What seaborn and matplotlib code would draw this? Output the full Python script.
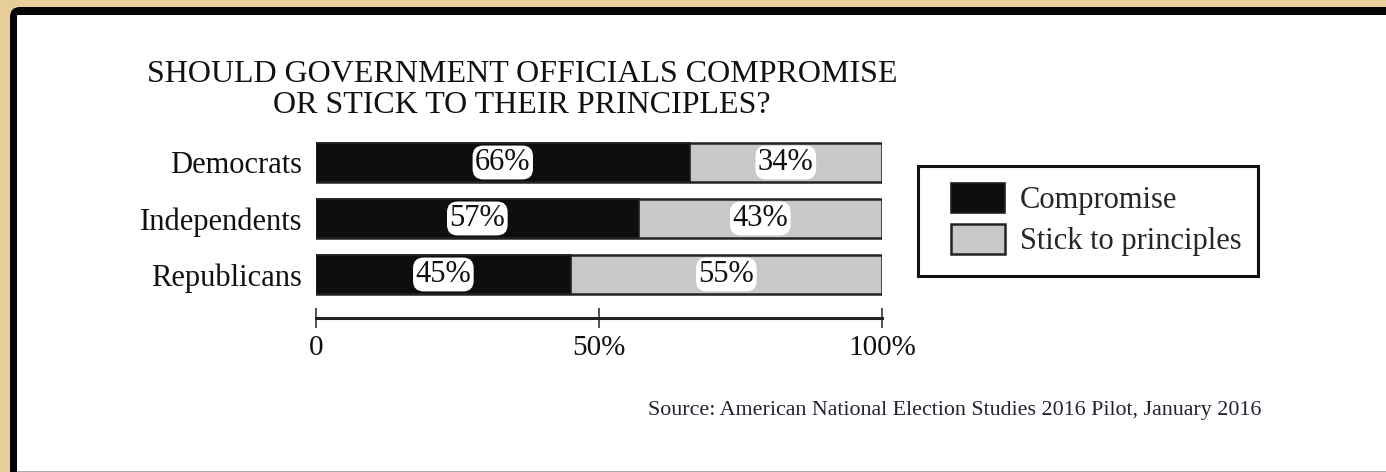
import matplotlib
matplotlib.use("Agg")
import matplotlib.pyplot as plt
import matplotlib.patches as mpatches
import matplotlib.transforms as mtransforms
import seaborn as sns
import pandas as pd

# ---- data ----
groups = ["Democrats", "Independents", "Republicans"]
compromise = [66, 57, 45]
stick = [34, 43, 55]
xticks = [0, 50, 100]
xticklabels = ["0", "50%", "100%"]
title = "SHOULD GOVERNMENT OFFICIALS COMPROMISE\nOR STICK TO THEIR PRINCIPLES?"
source = "Source: American National Election Studies 2016 Pilot, January 2016"

sns.set_theme(style="white")
plt.rcParams["font.family"] = ["Liberation Serif", "DejaVu Serif"]

W, H = 1386, 472
fig = plt.figure(figsize=(W / 100, H / 100), dpi=100)
fig.patch.set_facecolor("#e7cd97")

ident = mtransforms.IdentityTransform()
# black frame with rounded corner
frame = mpatches.FancyBboxPatch((10, -20), 1420, H - 7 + 20,
                                boxstyle="round,pad=0,rounding_size=10",
                                facecolor="#050505", edgecolor="none",
                                transform=ident, zorder=-10)
fig.add_artist(frame)
panel = mpatches.Rectangle((17, 1), 1420, H - 15 - 1, facecolor="white",
                           edgecolor="none", transform=ident, zorder=-9)
fig.add_artist(panel)
bline = mpatches.Rectangle((17, 0), 1420, 1.5, facecolor="#aaaaaa",
                           edgecolor="none", transform=ident, zorder=-9)
fig.add_artist(bline)

# axes
ax_left, ax_right = 316 / W, 882 / W
ax_top, ax_bottom = 1 - 134.5 / H, 1 - 318 / H
ax = fig.add_axes([ax_left, ax_bottom, ax_right - ax_left, ax_top - ax_bottom])
ax.set_facecolor("none")

df = pd.DataFrame({"group": groups, "compromise": compromise, "stick": stick})
df["total"] = df["compromise"] + df["stick"]

sns.barplot(data=df, y="group", x="total", orient="h", color="#c8c8c8",
            edgecolor="#222222", linewidth=1.8, width=0.7, ax=ax,
            label="Stick to principles", saturation=1)
sns.barplot(data=df, y="group", x="compromise", orient="h", color="#0e0e0e",
            edgecolor="#222222", linewidth=1.2, width=0.7, ax=ax,
            label="Compromise", saturation=1)

handles, labels = ax.get_legend_handles_labels()
if ax.get_legend() is not None:
    ax.get_legend().remove()

box = dict(boxstyle="round,pad=0.08,rounding_size=0.35", fc="white", ec="none")
for i, (c, s) in enumerate(zip(compromise, stick)):
    ax.text(c / 2, i, f"{c}%", ha="center", va="center", fontsize=22,
            color="#111111", bbox=box)
    ax.text(c + s / 2, i, f"{s}%", ha="center", va="center", fontsize=22,
            color="#111111", bbox=box)

ax.set_xlim(0, 100)
ax.set_ylim(2.777, -0.5)
ax.set_xticks(xticks)
ax.set_xticklabels(xticklabels, fontsize=21, color="#111111")
ax.set_xlabel("")
ax.set_ylabel("")
ax.tick_params(axis="y", length=0, pad=10, labelsize=22, labelcolor="#111111")
ax.tick_params(axis="x", direction="inout", length=15, width=1.2,
               color="#333333", pad=5, bottom=True)
for sp in ["left", "right", "top"]:
    ax.spines[sp].set_visible(False)
ax.spines["bottom"].set_color("#222222")
ax.spines["bottom"].set_linewidth(2.2)

# legend: frame box drawn separately, entries placed inside it
legbox = mpatches.Rectangle((918, H - 276), 340, 110, facecolor="white",
                            edgecolor="#111111", linewidth=2.2,
                            transform=ident, zorder=5)
fig.add_artist(legbox)
order = [labels.index("Compromise"), labels.index("Stick to principles")]
leg = fig.legend([handles[k] for k in order], [labels[k] for k in order],
                 loc="upper left", bbox_to_anchor=(951 / W, 1 - 183 / H),
                 bbox_transform=fig.transFigure, borderaxespad=0,
                 fontsize=22, frameon=False,
                 handlelength=1.76, handleheight=1.14, handletextpad=0.5,
                 labelspacing=0.28, borderpad=0)
leg.set_zorder(6)

fig.text(522 / W, 1 - 90 / H, title, ha="center", va="center",
         fontsize=23, color="#111111", linespacing=1.1)
fig.text(1261 / W, 1 - 410 / H, source, ha="right", va="center",
         fontsize=15.8, color="#222233")

fig.savefig("out.png", dpi=100, facecolor=fig.get_facecolor())
